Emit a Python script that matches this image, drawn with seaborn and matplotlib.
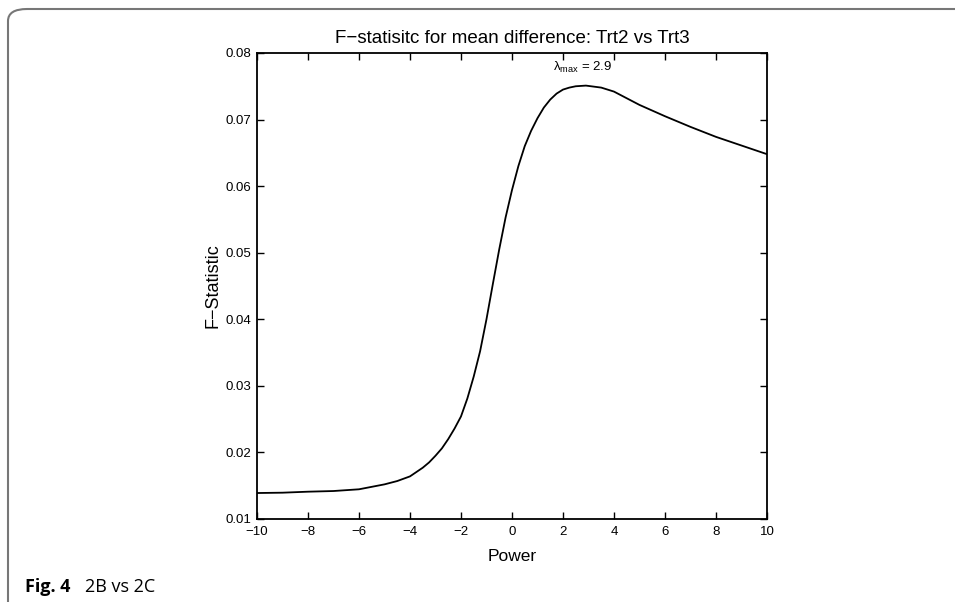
import pandas as pd
import matplotlib.pyplot as plt
import seaborn as sns
from matplotlib.patches import FancyBboxPatch

# Values
power = [-10, -9, -8, -7, -6, -5, -4.5, -4, -3.5, -3.25, -3, -2.75, -2.5, -2.25,
         -2, -1.75, -1.5, -1.25, -1, -0.75, -0.5, -0.25, 0, 0.25, 0.5, 0.75,
         1, 1.25, 1.5, 1.75, 2, 2.25, 2.5, 2.9, 3.5, 4, 4.5, 5, 6, 7, 8, 9, 10]
f_stat = [0.0139, 0.01395, 0.0141, 0.0142, 0.01446, 0.0152, 0.0157, 0.0164,
          0.0177, 0.0185, 0.0195, 0.0206, 0.0220, 0.0236,
          0.0254, 0.0281, 0.0314, 0.0352, 0.0400, 0.0453, 0.0505, 0.0553,
          0.0594, 0.0630, 0.0660, 0.0683, 0.0702, 0.0718, 0.0730, 0.0739,
          0.0745, 0.0748, 0.0750, 0.0751, 0.0748, 0.0742, 0.0732, 0.0722,
          0.0705, 0.0689, 0.0674, 0.0661, 0.0648]
x_ticks = list(range(-10, 11, 2))
y_ticks = [0.01, 0.02, 0.03, 0.04, 0.05, 0.06, 0.07, 0.08]
lambda_max = 2.9

df = pd.DataFrame({'Power': power, 'F': f_stat})

sns.set_style('ticks')
plt.rcParams['font.family'] = ['Liberation Sans', 'DejaVu Sans']
plt.rcParams['text.color'] = 'black'
plt.rcParams['axes.labelcolor'] = 'black'
plt.rcParams['mathtext.fontset'] = 'custom'
plt.rcParams['mathtext.rm'] = 'Liberation Sans'
plt.rcParams['mathtext.it'] = 'Liberation Sans'

fig = plt.figure(figsize=(9.55, 6.02), dpi=100)
ax = fig.add_axes([0.2691, 0.1379, 0.534, 0.7741])

sns.lineplot(data=df, x='Power', y='F', color='black', linewidth=1.3, ax=ax, sort=True)

ax.set_xlim(-10, 10)
ax.set_ylim(0.01, 0.08)
ax.set_xticks(x_ticks)
ax.set_xticklabels([str(t).replace('-', '\u2212') for t in x_ticks])
ax.set_yticks(y_ticks)
ax.set_yticklabels([f'{t:.2f}' for t in y_ticks])
ax.tick_params(direction='in', length=5, width=1, top=True, right=True,
               labelsize=9.5, colors='black')
ax.tick_params(axis='x', pad=5)
ax.tick_params(axis='y', pad=4)
for s in ax.spines.values():
    s.set_linewidth(1.3)
    s.set_color('black')

ax.set_title('F\u2212statisitc for mean difference: Trt2 vs Trt3', fontsize=13.5, pad=7)
ax.set_xlabel('Power', fontsize=12.5, labelpad=8)
ax.set_ylabel('F\u2212Statistic', fontsize=13, labelpad=3)

ax.text(1.6, 0.0773, r'$\lambda_{\mathrm{max}}$ = ' + str(lambda_max), fontsize=9.5)

# rounded frame and caption
frame = FancyBboxPatch((8 / 955, -0.05), 1.2, 1 - 9 / 602 + 0.05,
                       boxstyle='round,pad=0,rounding_size=0.02',
                       transform=fig.transFigure, fill=False,
                       edgecolor='#777777', linewidth=1.5, clip_on=False)
fig.patches.append(frame)
fig.text(25 / 955, 1 - 587 / 602, 'Fig. 4', fontsize=13, fontweight='bold',
         family='Open Sans', va='center')
fig.text(85 / 955, 1 - 587 / 602, '2B vs 2C', fontsize=13,
         family='Open Sans', va='center')

fig.savefig('out.png', dpi=100)
